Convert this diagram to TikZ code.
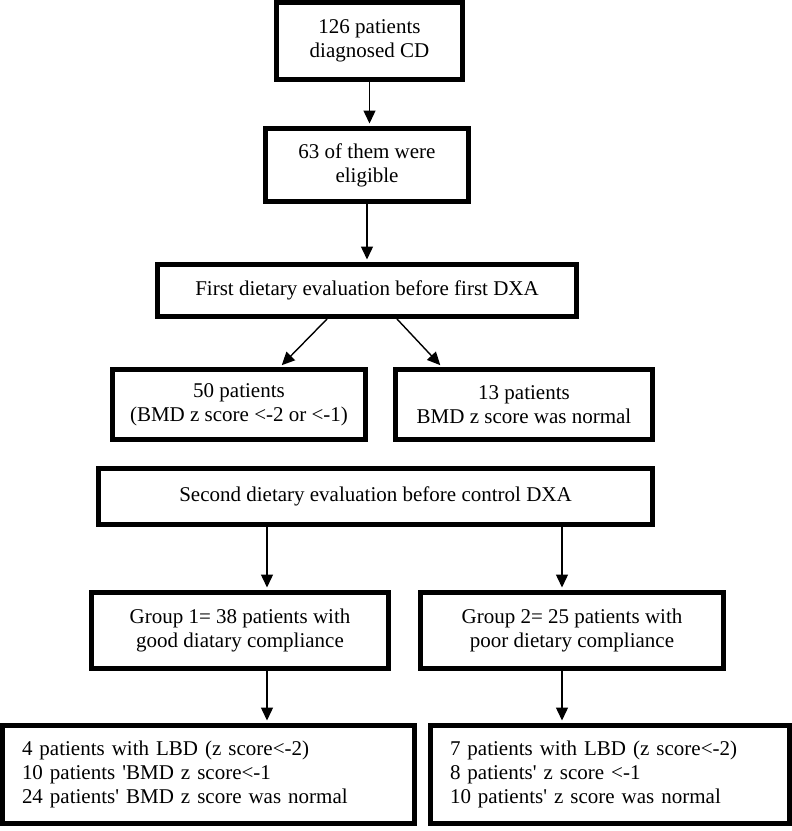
\documentclass[tikz,border=0pt]{standalone}
\usepackage{fontspec}
\setmainfont{Liberation Serif}
\usetikzlibrary{arrows.meta}

\begin{document}
\begin{tikzpicture}[x=1pt,y=-1pt]
          \tikzstyle{every node}+=[font=\fontsize{21}{24}\selectfont]
          \tikzstyle{box}=[draw=black,line width=5pt,rectangle,align=center,inner sep=0pt]
          \tikzstyle{listbox}=[box,align=left,inner xsep=19.5pt,text width=373pt]
          \tikzstyle{arr}=[black,line width=1.4pt,-{Triangle[length=13pt,width=12pt]},shorten >=2.5pt]
          \useasboundingbox (0,0) rectangle (792,831);
          \node[box,minimum width=186pt,minimum height=77pt] (diag) at (369.5,41) {126 patients\\diagnosed CD};
          \node[box,minimum width=203pt,minimum height=73pt] (elig) at (367,165) {63 of them were\\eligible};
          \node[box,minimum width=419pt,minimum height=52pt] (first) at (367,290.5) {First dietary evaluation before first DXA};
          \node[box,minimum width=253pt,minimum height=70pt] (low) at (239,404.5) {50 patients\\(BMD z score <-2 or <-1)};
          \node[box,minimum width=257pt,minimum height=70pt] (norm) at (524,404.5) {13 patients\\BMD z score was normal};
          \node[box,minimum width=554pt,minimum height=56pt] (second) at (375.5,496.5) {Second dietary evaluation before control DXA};
          \node[box,minimum width=297pt,minimum height=76pt] (good) at (240,630.5) {Group 1= 38 patients with\\good diatary compliance};
          \node[box,minimum width=303pt,minimum height=76pt] (poor) at (572,630.5) {Group 2= 25 patients with\\poor dietary compliance};
          \node[listbox,minimum width=412pt,minimum height=98pt] (goodres) at (208.5,774.5) {4 patients with LBD (z score<-2)\\10 patients \textquotesingle BMD z score<-1\\24 patients\textquotesingle{} BMD z score was normal};
          \node[listbox,text width=320pt,minimum width=359pt,minimum height=98pt] (poorres) at (610,774.5) {7 patients with LBD (z score<-2)\\8 patients\textquotesingle{} z score <-1\\10 patients\textquotesingle{} z score was normal};
          \coordinate (g) at ([xshift=27pt]good.north);
          \coordinate (p) at ([xshift=-10pt]poor.north);
          \draw[arr] (diag.south) -- (diag.south |- elig.north);
          \draw[arr] (elig.south) -- (elig.south |- first.north);
          \draw[arr] ([xshift=-40pt]first.south) -- ([xshift=41pt]low.north);
          \draw[arr] ([xshift=30pt]first.south) -- ([xshift=-82pt]norm.north);
          \draw[arr] (second.south -| g) -- (g);
          \draw[arr] (second.south -| p) -- (p);
          \draw[arr] (good.south -| g) -- (goodres.north -| g);
          \draw[arr] (poor.south -| p) -- (poorres.north -| p);
        \end{tikzpicture}
\end{document}
